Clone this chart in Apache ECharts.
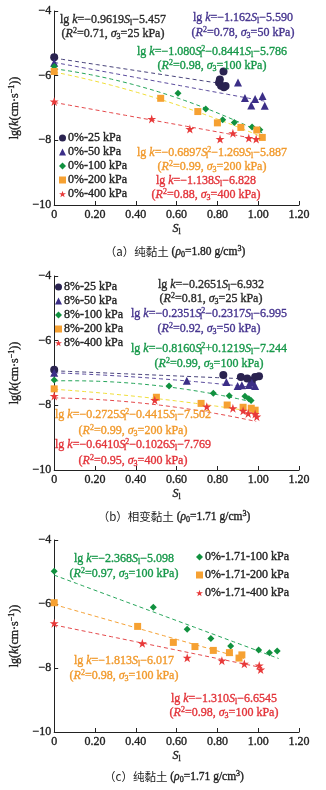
<!DOCTYPE html>
<html><head><meta charset="utf-8">
<script src="https://cdn.jsdelivr.net/npm/echarts@6/dist/echarts.min.js"></script>
<style>html,body{margin:0;padding:0;background:#fff}#c{width:326px;height:790px}</style>
</head><body><div id="c"></div>
<script>
// ---------- measured points: [S_l, lg k] ----------
// (a) pure clay, rho0 = 1.80 g/cm3
const a25  = [[0,-5.43],[0.83,-5.87],[0.812,-6.12],[0.808,-6.22],[0.818,-6.31],[0.832,-6.36],[0.84,-6.32]];
const a50  = [[0,-5.60],[0.901,-6.21],[0.935,-6.69],[0.966,-6.92],[0.985,-6.72],[1.021,-6.63],[1.032,-6.93]];
const a100 = [[0,-5.72],[0.607,-6.54],[0.743,-7.03],[0.826,-7.36],[0.883,-7.45],[0.970,-7.59],[1.008,-7.67]];
const a200 = [[0,-5.87],[0.522,-6.70],[0.704,-7.11],[0.80,-7.46],[0.915,-7.60],[0.993,-7.68],[1.02,-7.91]];
const a400 = [[0,-6.80],[0.478,-7.34],[0.665,-7.65],[0.813,-7.96],[0.876,-7.78],[0.954,-7.93],[0.99,-7.96]];
// (b) phase-change clay, rho0 = 1.71 g/cm3
const b25  = [[0,-6.90],[0.829,-7.06],[0.915,-7.12],[0.946,-7.17],[0.969,-7.24],[0.985,-7.12],[1.004,-7.10]];
const b50  = [[0,-6.99],[0.650,-7.24],[0.844,-7.28],[0.899,-7.40],[0.92,-7.38],[0.954,-7.37],[0.969,-7.30],[0.985,-7.40]];
const b100 = [[0,-7.22],[0.563,-7.40],[0.780,-7.63],[0.858,-7.70],[0.935,-7.72],[0.954,-7.80],[0.965,-7.85]];
const b200 = [[0,-7.49],[0.501,-7.75],[0.720,-7.94],[0.848,-7.99],[0.926,-8.06],[0.966,-8.09],[0.985,-8.15]];
const b400 = [[0,-7.71],[0.493,-7.84],[0.748,-8.04],[0.876,-8.09],[0.926,-8.17],[0.951,-8.25],[0.985,-8.27],[0.993,-8.35]];
// (c) pure clay, rho0 = 1.71 g/cm3
const c100 = [[0,-4.98],[0.486,-6.10],[0.652,-6.79],[0.768,-7.08],[0.865,-7.31],[1.002,-7.44],[1.055,-7.52],[1.093,-7.47]];
const c200 = [[0,-5.96],[0.409,-6.70],[0.584,-7.20],[0.690,-7.33],[0.780,-7.45],[0.859,-7.52],[0.906,-7.69],[0.920,-7.59]];
const c400 = [[0,-6.60],[0.432,-7.23],[0.652,-7.68],[0.822,-7.77],[0.932,-7.87],[1.005,-7.92],[1.012,-8.05]];

// ---------- fitted curves: lg k = c2*S^2 + c1*S + c0 over [from, to] ----------
const fitA25  = [0, -0.9619, -5.457],      spanA25  = [0, 0.83];
const fitA50  = [0, -1.162, -5.590],       spanA50  = [0, 1.03];
const fitA100 = [-1.080, -0.8441, -5.786], spanA100 = [0, 1.02];
const fitA200 = [-0.6897, -1.269, -5.887], spanA200 = [0, 1.02];
const fitA400 = [0, -1.138, -6.828],       spanA400 = [0, 1.00];
const fitB25  = [0, -0.2651, -6.932],      spanB25  = [0, 1.00];
const fitB50  = [-0.2351, -0.2317, -6.995],spanB50  = [0, 0.99];
const fitB100 = [-0.8160, 0.1219, -7.244], spanB100 = [0, 0.97];
const fitB200 = [-0.2725, -0.4415, -7.502],spanB200 = [0, 0.99];
const fitB400 = [-0.6410, -0.1026, -7.769],spanB400 = [0, 0.99];
const fitC100 = [0, -2.368, -5.098],       spanC100 = [0, 1.10];
const fitC200 = [0, -1.813, -6.017],       spanC200 = [0, 0.93];
const fitC400 = [0, -1.310, -6.6545],      spanC400 = [0, 1.02];

// ---------- axis ticks ----------
const xTicks = [0, 0.2, 0.4, 0.6, 0.8, 1.0, 1.2];
const yTicks = [-10, -8, -6, -4];

// ---------- legend names ----------
const namesA = ['0%-25 kPa','0%-50 kPa','0%-100 kPa','0%-200 kPa','0%-400 kPa'];
const namesB = ['8%-25 kPa','8%-50 kPa','8%-100 kPa','8%-200 kPa','8%-400 kPa'];
const namesC = ['0%-1.71-100 kPa','0%-1.71-200 kPa','0%-1.71-400 kPa'];

const SERIF = 'Liberation Serif, "Times New Roman", "Noto Sans CJK SC", serif';
const INK = '#222';
const HEAVY = 0.35; // thin outline that thickens the serif strokes
const STAR = 'path://M0,-100L22.5,-30.9L95.1,-30.9L36.3,11.8L58.8,80.9L0,38.2L-58.8,80.9L-36.3,11.8L-95.1,-30.9L-22.5,-30.9Z';

const MK = { c25:'#2a2350', c50:'#3b2e87', c100:'#11913f', c200:'#f6a132', c400:'#e83a3a' };
const LN = { c25:'#47427a', c50:'#5b4c9e', c100:'#25a55a', c200y:'#f1df3a', c200:'#f5a033', c400:'#e5484a' };
const TX = { c25:'#2b2b2b', c50:'#46358f', c100:'#17984a', c200:'#f19a2d', c400:'#e3343a' };

function curve(coef, span) {
  const pts = [];
  const n = 40;
  for (let i = 0; i <= n; i++) {
    const s = span[0] + (span[1] - span[0]) * i / n;
    pts.push([s, coef[0] * s * s + coef[1] * s + coef[2]]);
  }
  return pts;
}

const markers = [
  [0, namesA[0], a25, 'circle', 8, MK.c25], [0, namesA[1], a50, 'triangle', 8, MK.c50],
  [0, namesA[2], a100, 'diamond', 7, MK.c100], [0, namesA[3], a200, 'rect', 7, MK.c200],
  [0, namesA[4], a400, STAR, 9, MK.c400],
  [1, namesB[0], b25, 'circle', 8, MK.c25], [1, namesB[1], b50, 'triangle', 8, MK.c50],
  [1, namesB[2], b100, 'diamond', 7, MK.c100], [1, namesB[3], b200, 'rect', 7, MK.c200],
  [1, namesB[4], b400, STAR, 9, MK.c400],
  [2, namesC[0], c100, 'diamond', 7, MK.c100], [2, namesC[1], c200, 'rect', 7, MK.c200],
  [2, namesC[2], c400, STAR, 9, MK.c400]
];
const fits = [
  [0, fitA25, spanA25, LN.c25], [0, fitA50, spanA50, LN.c50], [0, fitA100, spanA100, LN.c100],
  [0, fitA200, spanA200, LN.c200y], [0, fitA400, spanA400, LN.c400],
  [1, fitB25, spanB25, LN.c25], [1, fitB50, spanB50, LN.c50], [1, fitB100, spanB100, LN.c100],
  [1, fitB200, spanB200, LN.c200y], [1, fitB400, spanB400, LN.c400],
  [2, fitC100, spanC100, LN.c100], [2, fitC200, spanC200, LN.c200], [2, fitC400, spanC400, LN.c400]
];

const series = [];
fits.forEach(([g, coef, span, color]) => series.push({
  type: 'line', xAxisIndex: g, yAxisIndex: g, data: curve(coef, span), showSymbol: false,
  silent: true, z: 2, lineStyle: { color, width: 1, type: [4, 3] }
}));
markers.forEach(([g, name, data, symbol, size, color]) => series.push({
  type: 'scatter', name, xAxisIndex: g, yAxisIndex: g, data, symbol, symbolSize: size,
  z: 3, itemStyle: { color, opacity: 1 }
}));

const heavyEC = { textBorderColor: INK, textBorderWidth: HEAVY };
const axisRich = {
  i: Object.assign({ fontStyle: 'italic', fontFamily: SERIF, fontSize: 12, color: INK }, heavyEC),
  n: Object.assign({ fontFamily: SERIF, fontSize: 12, color: INK }, heavyEC),
  sub: Object.assign({ fontFamily: SERIF, fontSize: 8, color: INK, padding: [6, 0, 0, 0] }, heavyEC),
  sup: Object.assign({ fontFamily: SERIF, fontSize: 8, color: INK, padding: [0, 0, 6, 0] }, heavyEC)
};

const grids = [
  { left: 43, top: 11, width: 256, height: 194 },
  { left: 43, top: 276, width: 256, height: 194 },
  { left: 43, top: 540, width: 256, height: 192 }
];
const xAxes = grids.map((_, g) => ({
  gridIndex: g, type: 'value', min: xTicks[0], max: xTicks[xTicks.length - 1], interval: xTicks[1] - xTicks[0],
  axisLine: { lineStyle: { color: INK, width: 1 } },
  axisTick: { inside: true, length: 4, lineStyle: { color: INK } },
  splitLine: { show: false },
  axisLabel: Object.assign({ margin: 4, fontFamily: SERIF, fontSize: 12, color: INK,
    formatter: v => v === 0 ? '0' : v.toFixed(2) }, heavyEC),
  name: '{i|S}{sub|l}', nameLocation: 'middle', nameGap: 17,
  nameTextStyle: { rich: axisRich }
}));
const yAxes = grids.map((_, g) => ({
  gridIndex: g, type: 'value', min: yTicks[0], max: yTicks[yTicks.length - 1], interval: yTicks[1] - yTicks[0],
  axisLine: { show: true, lineStyle: { color: INK, width: 1 } },
  axisTick: { show: true, inside: true, length: 4, lineStyle: { color: INK } },
  splitLine: { show: false },
  axisLabel: Object.assign({ margin: 3, fontFamily: SERIF, fontSize: 12, color: INK,
    formatter: v => (v < 0 ? '\u2212' : '') + Math.abs(v) }, heavyEC),
  name: '{n|lg(}{i|k}{n|(cm·s}{sup|\u22121}{n|))}', nameLocation: 'middle', nameGap: 21,
  nameTextStyle: { rich: axisRich }
}));

function legendFor(names, left, top, gap) {
  return {
    data: names, orient: 'vertical', left, top, itemWidth: 7, itemHeight: 7, itemGap: gap,
    selectedMode: false, padding: 0,
    textStyle: Object.assign({ fontFamily: SERIF, fontSize: 12, color: INK, lineHeight: 14, padding: [0, 0, 0, -3] }, heavyEC)
  };
}

// rich-text annotation (equations, captions)
function note(x, y, text, color, size) {
  const fs = size || 12;
  const hv = { stroke: color, lineWidth: HEAVY };
  const base = Object.assign({ fontFamily: SERIF, fontSize: fs, fill: color, lineHeight: 14 }, hv);
  const small = Object.assign({ fontFamily: SERIF, fontSize: 8, fill: color, lineHeight: 8 }, hv);
  return {
    type: 'text', x, y, z: 10, silent: true,
    style: Object.assign({
      text, fill: color, fontFamily: SERIF, fontSize: fs, lineHeight: 14,
      align: 'center', verticalAlign: 'middle', textAlign: 'center', textVerticalAlign: 'middle',
      rich: {
        i: Object.assign({}, base, { fontStyle: 'italic' }),
        sub: Object.assign({}, small, { padding: [6, 0, 0, 0] }),
        subz: Object.assign({}, small, { padding: [6, 0, 0, 0], width: 0 }),
        sup: Object.assign({}, small, { padding: [0, 0, 6, 0] }),
        cjk: Object.assign({}, base, { fontFamily: '"Noto Sans CJK SC", sans-serif', lineWidth: 0 })
      }
    }, hv)
  };
}
const Sl = '{i|S}{sub|l}';
const Sl2 = '{i|S}{subz|l}{sup|2}';
const R2 = '({i|R}{sup|2}=';
const sig = '{i|σ}{sub|3}=';

const notes = [
  // (a)
  note(113, 20, 'lg {i|k}=\u22120.9619' + Sl + '\u22125.457', TX.c25),
  note(113, 34, R2 + '0.71, ' + sig + '25 kPa)', TX.c25),
  note(243, 18, 'lg {i|k}=\u22121.162' + Sl + '\u22125.590', TX.c50),
  note(243, 33, R2 + '0.78, ' + sig + '50 kPa)', TX.c50),
  note(212, 52, 'lg {i|k}=\u22121.080' + Sl2 + '\u22120.8441' + Sl + '\u22125.786', TX.c100),
  note(212, 66, R2 + '0.98, ' + sig + '100 kPa)', TX.c100),
  note(212, 153, 'lg {i|k}=\u22120.6897' + Sl2 + '\u22121.269' + Sl + '\u22125.887', TX.c200),
  note(212, 167, R2 + '0.99, ' + sig + '200 kPa)', TX.c200),
  note(206, 181, 'lg {i|k}=\u22121.138' + Sl + '\u22126.828', TX.c400),
  note(206, 195, R2 + '0.88, ' + sig + '400 kPa)', TX.c400),
  note(175, 252, '{cjk|（a）纯黏土} ({i|ρ}{sub|0}=1.80 g/cm{sup|3})', INK, 11.5),
  // (b)
  note(211, 285, 'lg {i|k}=\u22120.2651' + Sl + '\u22126.932', TX.c25),
  note(211, 299, R2 + '0.81, ' + sig + '25 kPa)', TX.c25),
  note(209, 314, 'lg {i|k}=\u22120.2351' + Sl2 + '\u22120.2317' + Sl + '\u22126.995', TX.c50),
  note(209, 329, R2 + '0.92, ' + sig + '50 kPa)', TX.c50),
  note(209, 349, 'lg {i|k}=\u22120.8160' + Sl2 + '+0.1219' + Sl + '\u22127.244', TX.c100),
  note(209, 364, R2 + '0.99, ' + sig + '100 kPa)', TX.c100),
  note(133, 415, 'lg {i|k}=\u22120.2725' + Sl2 + '\u22120.4415' + Sl + '\u22127.502', TX.c200),
  note(133, 431, R2 + '0.99, ' + sig + '200 kPa)', TX.c200),
  note(133, 445, 'lg {i|k}=\u22120.6410' + Sl2 + '\u22120.1026' + Sl + '\u22127.769', TX.c400),
  note(133, 461, R2 + '0.95, ' + sig + '400 kPa)', TX.c400),
  note(174, 517, '{cjk|（b）相变黏土} ({i|ρ}{sub|0}=1.71 g/cm{sup|3})', INK, 11.5),
  // (c)
  note(124, 559, 'lg {i|k}=\u22122.368' + Sl + '\u22125.098', TX.c100),
  note(124, 574, R2 + '0.97, ' + sig + '100 kPa)', TX.c100),
  note(124, 661, 'lg {i|k}=\u22121.813' + Sl + '\u22126.017', TX.c200),
  note(124, 676, R2 + '0.98, ' + sig + '100 kPa)', TX.c200),
  note(224, 699, 'lg {i|k}=\u22121.310' + Sl + '\u22126.6545', TX.c400),
  note(224, 713, R2 + '0.98, ' + sig + '100 kPa)', TX.c400),
  note(174, 777, '{cjk|（c）纯黏土} ({i|ρ}{sub|0}=1.71 g/cm{sup|3})', INK, 11.5)
];

const chart = echarts.init(document.getElementById('c'), null, { renderer: 'canvas' });
chart.setOption({
  animation: false,
  backgroundColor: '#fff',
  grid: grids,
  xAxis: xAxes,
  yAxis: yAxes,
  legend: [
    legendFor(namesA, 59, 131, 0),
    legendFor(namesB, 55, 280, 0),
    legendFor(namesC, 196, 550, 4)
  ],
  series,
  graphic: notes
});
</script></body></html>
